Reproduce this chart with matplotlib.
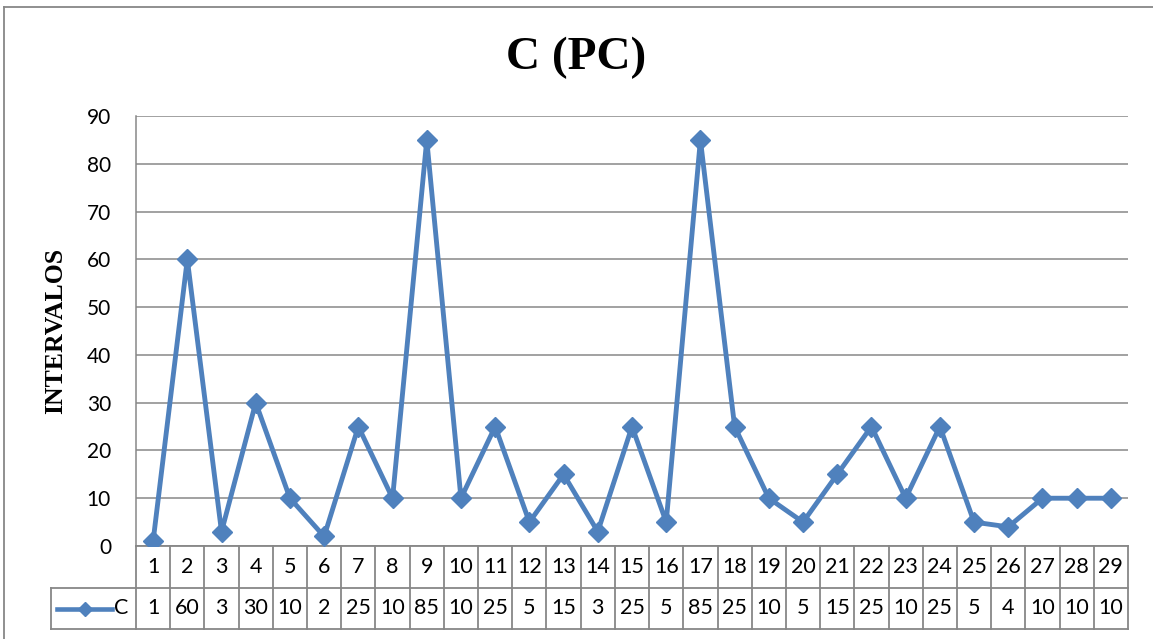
import numpy as np
import matplotlib
matplotlib.use("Agg")
import matplotlib.pyplot as plt
from matplotlib.lines import Line2D
import matplotlib.transforms as mtransforms

# datos
categorias = list(range(1, 30))
valores_c = [1, 60, 3, 30, 10, 2, 25, 10, 85, 10, 25, 5, 15, 3, 25,
             5, 85, 25, 10, 5, 15, 25, 10, 25, 5, 4, 10, 10, 10]
ticks_y = list(range(0, 91, 10))
serie = "C"
titulo = "C (PC)"
etiqueta_y = "INTERVALOS"

azul = "#4F81BD"
gris = "#878787"
fuente = "Lato"

W, H = 1153, 639
fig = plt.figure(figsize=(W / 100, H / 100), dpi=100)

# area del grafico (en pixeles)
left, right, top, bottom = 136, 1128, 116, 546
ax = fig.add_axes([left / W, (H - bottom) / H, (right - left) / W, (bottom - top) / H])

ax.plot(categorias, valores_c, color=azul, lw=3.5, marker="D", markersize=10,
        markerfacecolor=azul, markeredgecolor=azul, zorder=3)

ax.set_xlim(0.5, len(categorias) + 0.5)
ax.set_ylim(0, 90)
ax.set_yticks(ticks_y)
ax.set_xticks([])
ax.tick_params(axis="y", length=0, pad=18, labelsize=15)
for t in ax.get_yticklabels():
    t.set_fontfamily(fuente)
ax.yaxis.grid(True, color=gris, lw=1.1)
ax.set_axisbelow(True)
for s in ["top", "right", "bottom"]:
    ax.spines[s].set_visible(False)
ax.spines["left"].set_color(gris)
ax.spines["left"].set_linewidth(1.1)

ax.set_ylabel(etiqueta_y, family="Liberation Serif", fontweight="bold",
              fontsize=18.5, labelpad=14)

fig.text(0.5, (H - 58) / H, titulo, family="Liberation Serif", fontweight="bold",
         fontsize=34, ha="center", va="center")

# tabla de datos
h_ax = bottom - top
y1 = -(588 - bottom) / h_ax
y2 = -(629 - bottom) / h_ax
trans = mtransforms.blended_transform_factory(ax.transData, ax.transAxes)
ancho = (right - left) / len(categorias)

def px_a_x(px):
    return 0.5 - (left - px) / ancho

x_leyenda = px_a_x(51)

def linea(xs, ys, tr):
    ax.add_line(Line2D(xs, ys, transform=tr, color=gris, lw=1.3, clip_on=False))

x0, x1 = 0.5, len(categorias) + 0.5
linea([x0, x1], [0, 0], trans)
linea([x_leyenda, x1], [y1, y1], trans)
linea([x_leyenda, x1], [y2, y2], trans)
linea([x_leyenda, x_leyenda], [y1, y2], trans)
for i in range(len(categorias) + 1):
    xb = 0.5 + i
    linea([xb, xb], [0, y2], trans)

for c, v in zip(categorias, valores_c):
    ax.text(c, y1 / 2, str(c), transform=trans, ha="center", va="center",
            fontsize=15.5, family=fuente)
    ax.text(c, (y1 + y2) / 2, str(v), transform=trans, ha="center", va="center",
            fontsize=15.5, family=fuente)

# clave de leyenda
ym = (y1 + y2) / 2
lx0, lx1 = px_a_x(57), px_a_x(112)
ax.add_line(Line2D([lx0, lx1], [ym, ym], transform=trans, color=azul, lw=3.3, clip_on=False))
ax.add_line(Line2D([(lx0 + lx1) / 2], [ym], transform=trans, color=azul, marker="D",
                   markersize=7.5, clip_on=False))
ax.text(px_a_x(121), ym, serie, transform=trans, ha="center", va="center",
        fontsize=15.5, family=fuente)

# borde del grafico
fig.add_artist(Line2D([4 / W, 1], [(H - 7) / H, (H - 7) / H], color=gris, lw=1.3))
fig.add_artist(Line2D([4 / W, 4 / W], [0, (H - 7) / H], color=gris, lw=1.3))

fig.savefig("out.png", dpi=100)
